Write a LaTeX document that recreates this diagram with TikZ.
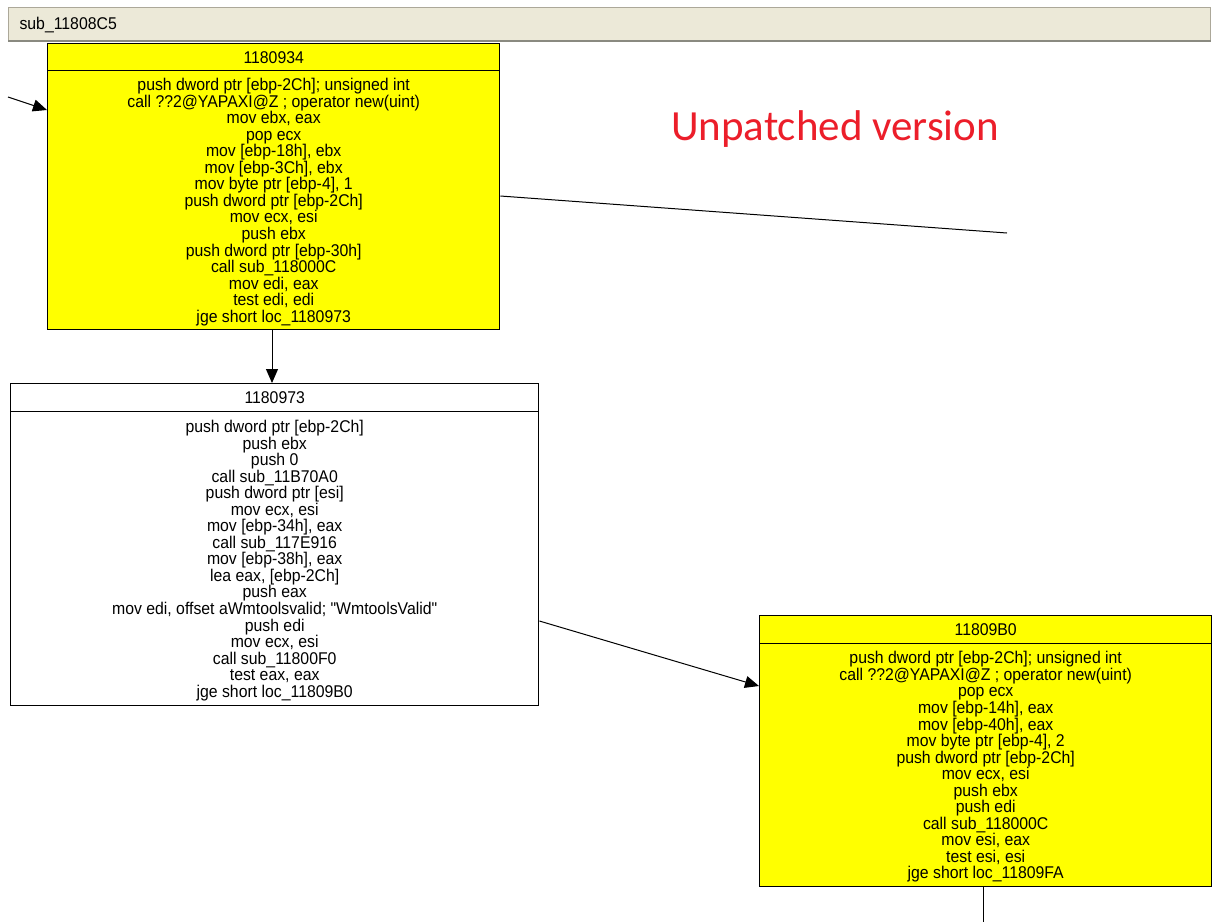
\documentclass[tikz,border=0pt]{standalone}
\usepackage{fontspec}
\usetikzlibrary{arrows.meta}
\newfontfamily\asmfont[FakeStretch=0.93]{Liberation Sans}
\newfontfamily\notefont{Carlito}
\definecolor{barfill}{HTML}{ECE9D8}
\definecolor{barline}{HTML}{ACA899}
\definecolor{barshadow}{HTML}{8A8A80}
\definecolor{blockyellow}{HTML}{FFFF00}
\definecolor{notered}{RGB}{236,30,42}
\tikzset{
  asm/.style={font=\asmfont\fontsize{17}{16.55}\selectfont, text=black},
  hdr/.style={asm, draw=black, line width=1.4pt, anchor=north west, inner sep=0pt, align=center},
  bodybox/.style={asm, draw=black, line width=1.4pt, anchor=north west, inner sep=0pt, align=center, text depth=0pt},
  ybox/.style={fill=blockyellow},
  wbox/.style={fill=white},
  edge/.style={draw=black, line width=1pt},
  arrowedge/.style={edge, -{Triangle[length=14pt,width=12pt]}},
}
\begin{document}
\begin{tikzpicture}[x=1pt,y=-1pt]
\useasboundingbox (0,0) rectangle (1212,922);
\fill[white] (0,0) rectangle (1212,922);

% block 1180934
\node[hdr, ybox, minimum width=452pt, minimum height=27pt] (b1h) at (47,43) {1180934};
\node[bodybox, ybox, minimum width=452pt, minimum height=259pt] (b1) at (47,70) {push dword ptr [ebp-2Ch]; unsigned int\\
call ??2@YAPAXI@Z ; operator new(uint)\\
mov ebx, eax\\
pop ecx\\
mov [ebp-18h], ebx\\
mov [ebp-3Ch], ebx\\
mov byte ptr [ebp-4], 1\\
push dword ptr [ebp-2Ch]\\
mov ecx, esi\\
push ebx\\
push dword ptr [ebp-30h]\\
call sub\_118000C\\
mov edi, eax\\
test edi, edi\\
jge short loc\_1180973};

% block 1180973
\node[hdr, wbox, minimum width=528pt, minimum height=28pt] (b2h) at (10,383) {1180973};
\node[bodybox, wbox, minimum width=528pt, minimum height=294pt] (b2) at (10,411) {push dword ptr [ebp-2Ch]\\
push ebx\\
push 0\\
call sub\_11B70A0\\
push dword ptr [esi]\\
mov ecx, esi\\
mov [ebp-34h], eax\\
call sub\_117E916\\
mov [ebp-38h], eax\\
lea eax, [ebp-2Ch]\\
push eax\\
mov edi, offset aWmtoolsvalid; "WmtoolsValid"\\
push edi\\
mov ecx, esi\\
call sub\_11800F0\\
test eax, eax\\
jge short loc\_11809B0};

% block 11809B0
\node[hdr, ybox, minimum width=452pt, minimum height=28pt] (b3h) at (759,615) {11809B0};
\node[bodybox, ybox, minimum width=452pt, minimum height=243pt] (b3) at (759,643) {push dword ptr [ebp-2Ch]; unsigned int\\
call ??2@YAPAXI@Z ; operator new(uint)\\
pop ecx\\
mov [ebp-14h], eax\\
mov [ebp-40h], eax\\
mov byte ptr [ebp-4], 2\\
push dword ptr [ebp-2Ch]\\
mov ecx, esi\\
push ebx\\
push edi\\
call sub\_118000C\\
mov esi, eax\\
test esi, esi\\
jge short loc\_11809FA};

% free ends of connectors
\coordinate (inStart) at (8,97);
\coordinate (outEnd) at (1007,233);
\coordinate (downEnd) at (983,922);

% connectors
\draw[arrowedge] (inStart) -- (b1.west |- 0,110);
\draw[edge] (b1.east |- 0,196) -- (outEnd);
\draw[arrowedge] (b1.south -| 272,0) -- (b2h.north -| 272,0);
\draw[arrowedge] (b2.east |- 0,621) -- (b3.west |- 0,686);
\draw[edge] (b3.south -| 983,0) -- (downEnd);

% title bar
\node[draw=barline, fill=barfill, line width=1pt, anchor=north west, minimum width=1202pt, minimum height=34pt, inner sep=0pt] (bar) at (8,7) {};
\draw[barshadow, line width=2pt] (bar.south west) ++(0,-1) -- ([yshift=1pt]bar.south east);
\node[asm, anchor=west] (bartitle) at (16,25) {sub\_11808C5};

% note
\node[font=\notefont\fontsize{43}{50}\selectfont, text=notered, anchor=base, inner sep=0pt] (note) at (835,140) {Unpatched version};
\end{tikzpicture}
\end{document}
